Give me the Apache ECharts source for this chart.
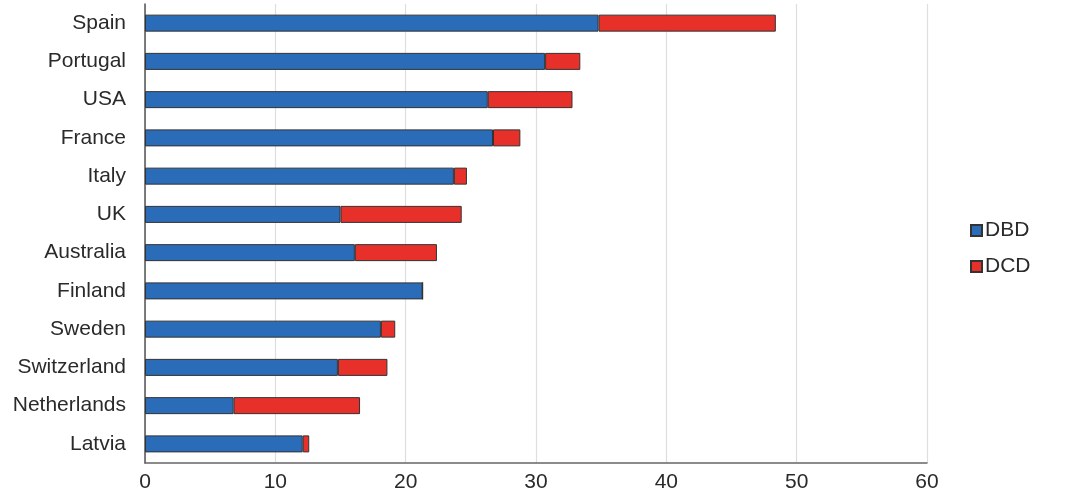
<!DOCTYPE html>
<html>
<head>
<meta charset="utf-8">
<script src="https://cdn.jsdelivr.net/npm/echarts@6/dist/echarts.min.js"></script>
<style>
  html, body { margin: 0; padding: 0; background: #fff; }
  #chart { width: 1068px; height: 498px; }
</style>
</head>
<body>
<div id="chart"></div>
<script>
// countries, bottom to top as the category axis draws them
var countries = ['Latvia', 'Netherlands', 'Switzerland', 'Sweden', 'Finland', 'Australia',
                 'UK', 'Italy', 'France', 'USA', 'Portugal', 'Spain'];
var dbd = [12.1, 6.8, 14.8, 18.1, 21.3, 16.1, 15.0, 23.7, 26.7, 26.3, 30.7, 34.8];
var dcd = [0.5, 9.7, 3.8, 1.1, 0, 6.3, 9.3, 1.0, 2.1, 6.5, 2.7, 13.6];
var xTicks = { min: 0, max: 60, interval: 10 };

var chart = echarts.init(document.getElementById('chart'));
var font = 'Liberation Sans, Arial, Helvetica, sans-serif';

chart.setOption({
    animation: false,
    grid: {
        left: 145,
        right: 141,
        top: 4,
        bottom: 35
    },
    legend: {
        orient: 'vertical',
        left: 965,
        top: 215,
        itemWidth: 11,
        itemHeight: 11,
        itemGap: 15,
        icon: 'rect',
        textStyle: { fontFamily: font, fontSize: 21, color: '#2a2a2a', padding: [0, 0, 0, -2] },
        data: ['DBD', 'DCD']
    },
    xAxis: {
        type: 'value',
        min: xTicks.min,
        max: xTicks.max,
        interval: xTicks.interval,
        axisLine: { show: true, lineStyle: { color: '#666', width: 1.5 } },
        axisTick: { show: false },
        axisLabel: { fontFamily: font, fontSize: 21, color: '#2a2a2a', margin: 9 },
        splitLine: { show: true, lineStyle: { color: '#dedede', width: 1.2 } }
    },
    yAxis: {
        type: 'category',
        data: countries,
        axisLine: { show: true, lineStyle: { color: '#555', width: 1.5 } },
        axisTick: { show: false },
        axisLabel: { fontFamily: font, fontSize: 21, color: '#2a2a2a', margin: 19 }
    },
    series: [
        {
            name: 'DBD',
            type: 'bar',
            stack: 'total',
            barWidth: 17,
            data: dbd,
            itemStyle: { color: '#2b6cb8', borderColor: '#333', borderWidth: 1 }
        },
        {
            name: 'DCD',
            type: 'bar',
            stack: 'total',
            barWidth: 17,
            data: dcd,
            itemStyle: { color: '#e8302a', borderColor: '#333', borderWidth: 1 }
        }
    ]
});
</script>
</body>
</html>
